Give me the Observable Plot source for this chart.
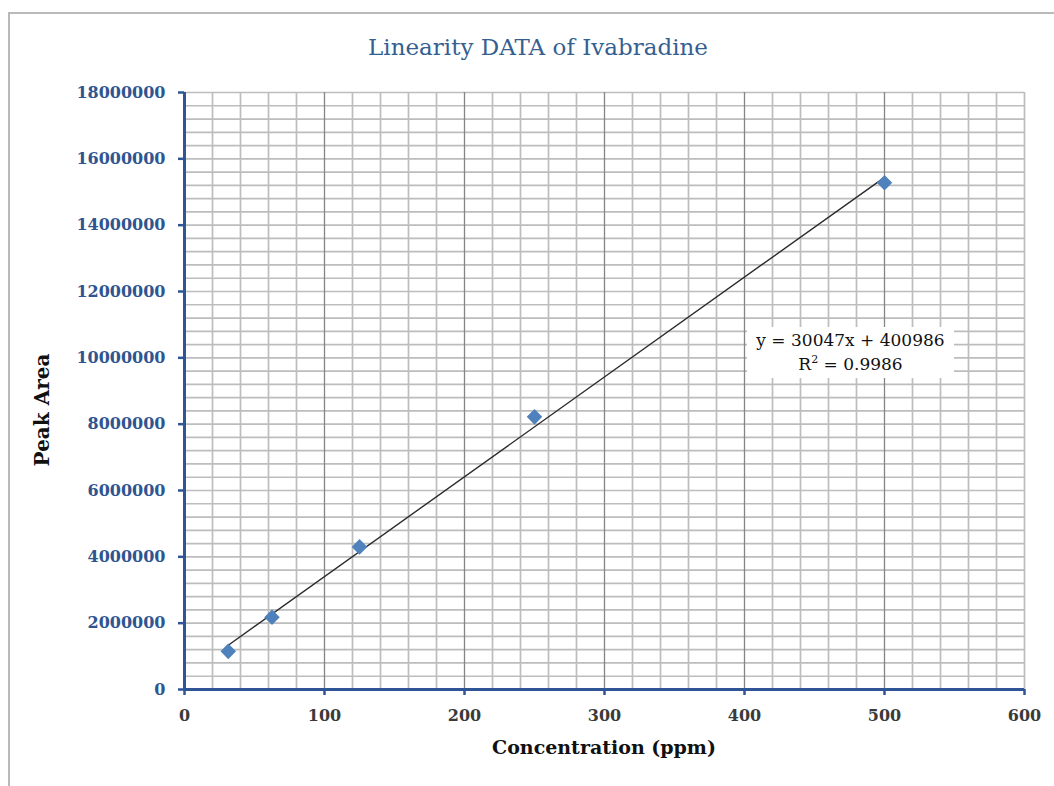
<!DOCTYPE html>
<html>
<head>
<meta charset="utf-8">
<script src="https://cdn.jsdelivr.net/npm/d3@7"></script>
<script src="https://cdn.jsdelivr.net/npm/@observablehq/plot@0.6"></script>
<style>
  html, body { margin: 0; padding: 0; background: #fff; overflow: hidden; }
  #wrap { position: relative; width: 1054px; height: 786px; }
  #frame { position: absolute; left: 8px; top: 12px; width: 1100px; height: 900px; border: 2px solid #b9b9b9; box-sizing: border-box; pointer-events: none; }
  #chart { position: absolute; left: 0; top: 0; }
  .lbl { position: absolute; font-family: "DejaVu Serif", serif; white-space: nowrap; }
  #title { left: 538px; top: 47px; transform: translate(-50%, -50%); font-size: 23px; color: #365f91; }
  #xlabel { left: 604px; top: 747px; transform: translate(-50%, -50%); font-size: 19px; font-weight: bold; color: #111; }
  #ylabel { left: 42px; top: 410px; transform: translate(-50%, -50%) rotate(-90deg); font-size: 20px; font-weight: bold; color: #111; }
  #eq { left: 747px; top: 327px; width: 207px; height: 51px; background: #fff; text-align: center; font-size: 17px; line-height: 24px; padding-top: 1px; box-sizing: border-box; color: #111; }
  #eq sup { font-size: 11px; vertical-align: 7px; line-height: 0; }
  g[aria-label="y-axis tick label"] text { font-weight: bold; }
  g[aria-label="x-axis tick label"] text { font-weight: bold; }
</style>
</head>
<body>
<div id="wrap">
  <div id="frame"></div>
  <div id="chart"></div>
  <div class="lbl" id="title">Linearity DATA of Ivabradine</div>
  <div class="lbl" id="xlabel">Concentration (ppm)</div>
  <div class="lbl" id="ylabel">Peak Area</div>
  <div class="lbl" id="eq">y = 30047x + 400986<br>R<sup>2</sup> = 0.9986</div>
</div>
<script>
// Data
const concentration = [31.25, 62.5, 125, 250, 500];
const peakArea = [1150000, 2180000, 4300000, 8220000, 15280000];

// Axis ticks and gridlines
const xTicks = [0, 100, 200, 300, 400, 500, 600];
const yTicks = [0, 2000000, 4000000, 6000000, 8000000, 10000000, 12000000, 14000000, 16000000, 18000000];
const xMinorGrid = d3.range(20, 601, 20).filter(v => v % 100 !== 0 || v === 600);
const xMajorGrid = [100, 200, 300, 400, 500];
const yMinorGrid = d3.range(400000, 18000001, 400000);

const data = concentration.map((c, i) => ({x: c, y: peakArea[i]}));

const axisBlue = "#2f5597";
const labelBlue = "#2e5590";

const chart = Plot.plot({
  width: 1054,
  height: 786,
  marginLeft: 184,
  marginRight: 30,
  marginTop: 92,
  marginBottom: 97,
  style: { fontFamily: "'DejaVu Serif', serif", fontSize: "16px", background: "transparent", overflow: "visible" },
  x: { domain: [0, 600] },
  y: { domain: [0, 18000000] },
  marks: [
    Plot.ruleY(yMinorGrid, { stroke: "#bdbdbd", strokeWidth: 1.7 }),
    Plot.ruleX(xMinorGrid, { stroke: "#bdbdbd", strokeWidth: 1.7 }),
    Plot.ruleX(xMajorGrid, { stroke: "#858585", strokeWidth: 1.3 }),
    Plot.linearRegressionY(data, { x: "x", y: "y", stroke: "#2b2b2b", strokeWidth: 1.4, ci: 0 }),
    Plot.dot(data, { x: "x", y: "y", symbol: "diamond2", r: 7, fill: "#4f81bd", stroke: "none" }),
    Plot.ruleX([0], { stroke: axisBlue, strokeWidth: 3 }),
    Plot.ruleY([0], { stroke: axisBlue, strokeWidth: 3 }),
    Plot.axisY({ ticks: yTicks, tickSize: 6, tickPadding: 13, stroke: axisBlue, strokeWidth: 2.5, fill: labelBlue, tickFormat: d => String(d), label: null }),
    Plot.axisX({ ticks: xTicks, tickSize: 6, tickPadding: 14, stroke: axisBlue, strokeWidth: 2.5, fill: "#3a3a3a", tickFormat: d => String(d), label: null })
  ]
});
document.getElementById("chart").appendChild(chart);
</script>
</body>
</html>
